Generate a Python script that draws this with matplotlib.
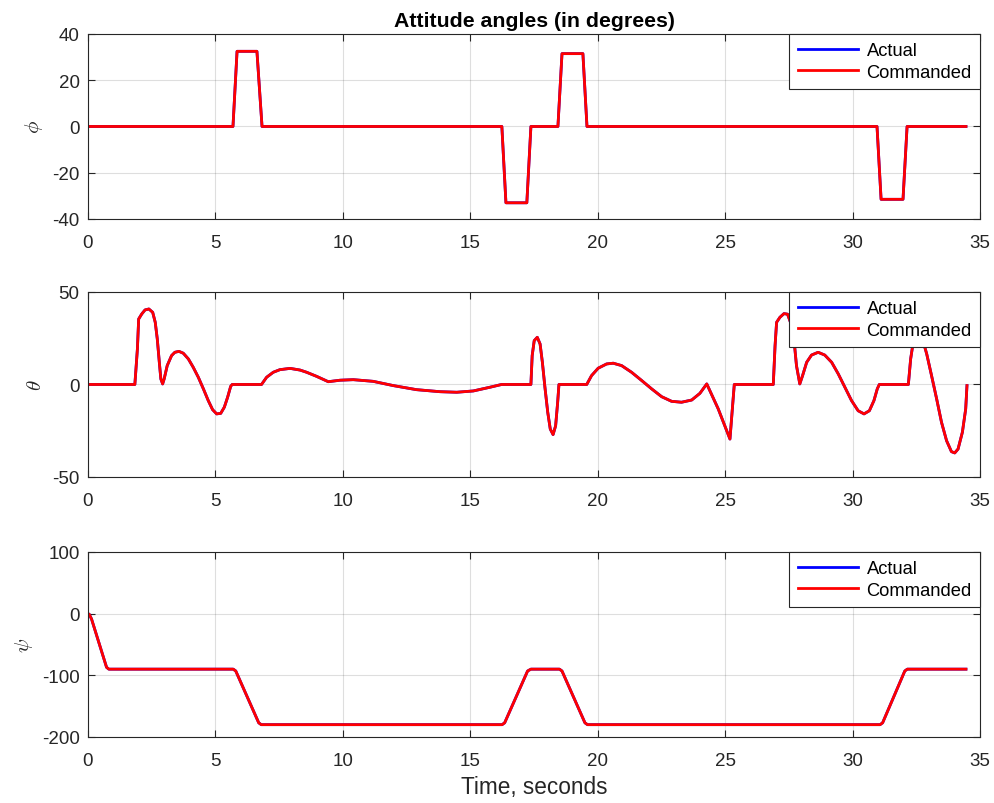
import numpy as np
from matplotlib import pyplot as plt

# roll angle phi [deg]
phi_t = [0, 5.69, 5.85, 6.63, 6.83, 16.24, 16.40, 17.22, 17.38, 18.44, 18.60, 19.42, 19.58,
         30.96, 31.12, 31.98, 32.14, 34.45]
phi_v = [0, 0, 32.5, 32.5, 0, 0, -33, -33, 0, 0, 31.5, 31.5, 0,
         0, -31.5, -31.5, 0, 0]

# pitch angle theta [deg]
theta_t = [0, 1.84, 1.94, 1.99, 2.11, 2.24, 2.39, 2.54, 2.64, 2.72, 2.80, 2.86, 2.93, 2.99,
           3.11, 3.28, 3.41, 3.57, 3.74, 3.94, 4.13, 4.33, 4.53, 4.72, 4.89, 5.05, 5.21,
           5.35, 5.48, 5.60, 5.66,
           6.81, 7.01, 7.27, 7.53, 7.93, 8.32, 8.58, 8.97, 9.43, 9.89, 10.41, 11.19, 11.98,
           12.89, 13.81, 14.47, 15.12, 15.77, 16.23,
           17.38, 17.43, 17.51, 17.63, 17.74, 17.83, 17.93, 18.04, 18.14, 18.25, 18.35,
           18.43, 18.48,
           19.57, 19.76, 20.02, 20.35, 20.61, 20.94, 21.33, 21.73, 22.12, 22.51, 22.90,
           23.29, 23.69, 24.01, 24.28, 24.73, 25.19, 25.36,
           26.89, 26.96, 27.02, 27.15, 27.31, 27.45, 27.58, 27.70, 27.80, 27.93, 28.04,
           28.20, 28.39, 28.65, 28.91, 29.18, 29.44, 29.70, 29.96, 30.22, 30.45, 30.66,
           30.84, 30.97, 31.05,
           32.19, 32.28, 32.38, 32.50, 32.62, 32.78, 32.91, 33.10, 33.30, 33.49, 33.69,
           33.88, 34.01, 34.14, 34.31, 34.44, 34.49]
theta_v = [0, 0, 19.2, 35.4, 38.1, 40.3, 40.8, 39.0, 33.6, 24.6, 12.0, 3.0, 0.3, 3.0,
           10.2, 15.6, 17.4, 17.9, 16.9, 13.8, 9.3, 3.9, -2.4, -8.7, -13.6, -15.9, -15.6,
           -12.3, -6.9, -1.0, 0,
           0, 3.9, 6.6, 8.0, 8.7, 7.8, 6.6, 4.4, 1.5, 2.3, 2.6, 1.7, -0.6,
           -2.8, -3.9, -4.2, -3.5, -1.5, 0,
           0, 15.6, 23.7, 25.5, 21.9, 12.0, -1.5, -15.0, -24.1, -27.1, -22.3,
           -9.6, 0,
           0, 4.8, 8.8, 11.1, 11.5, 10.2, 6.6, 2.1, -2.4, -6.6, -9.1,
           -9.6, -8.4, -4.8, 0.3, -13.2, -29.5, 0,
           0, 21.0, 33.6, 36.3, 38.3, 38.0, 33.0, 24.6, 10.2, 0.3, 4.8,
           12.0, 15.9, 17.4, 15.9, 12.0, 5.7, -1.5, -8.7, -14.2, -15.9, -14.2,
           -8.7, -2.4, 0,
           0, 13.8, 22.8, 27.0, 27.5, 22.8, 16.5, 4.8, -7.8, -20.4, -30.4,
           -36.3, -37.0, -34.9, -25.8, -13.2, -0.6]

# yaw angle psi [deg]
psi_t = [0, 0.05, 0.14, 0.73, 0.82, 5.70, 5.80, 6.70, 6.80, 16.25, 16.35, 17.25, 17.38,
         18.50, 18.60, 19.50, 19.60, 31.08, 31.18, 32.05, 32.15, 34.45]
psi_v = [0, -1, -8.6, -87, -90, -90, -93, -177, -180, -180, -177, -93, -90,
         -90, -93, -177, -180, -180, -177, -93, -90, -90]

plt.rcParams['font.family'] = ['Liberation Sans', 'DejaVu Sans']
plt.rcParams['mathtext.fontset'] = 'cm'
plt.rcParams['axes.unicode_minus'] = False

dark = '#262626'

fig = plt.figure(figsize=(9.95, 8.04), dpi=100)

panels = [
    (phi_t, phi_v, r'$\phi$', (-40, 40), [-40, -20, 0, 20, 40], 0.7264),
    (theta_t, theta_v, r'$\theta$', (-50, 50), [-50, 0, 50], 0.4055),
    (psi_t, psi_v, r'$\psi$', (-200, 100), [-200, -100, 0, 100], 0.0821),
]

axes = []
for t, v, label, ylim, yticks, bottom in panels:
    ax = fig.add_axes([0.0884, bottom, 0.8965, 0.2301])
    ax.plot(t, v, color='blue', linewidth=2, label='Actual')
    ax.plot(t, v, color='red', linewidth=2, label='Commanded')
    ax.set_xlim(0, 35)
    ax.set_ylim(*ylim)
    ax.set_xticks(np.arange(0, 36, 5))
    ax.set_yticks(yticks)
    ax.grid(True, color=dark, alpha=0.15, linewidth=0.8)
    ax.tick_params(direction='in', top=True, right=True, length=5, width=0.8,
                   colors=dark, labelsize=13.5, pad=6)
    ax.tick_params(axis='x', pad=11)
    for s in ax.spines.values():
        s.set_color(dark)
        s.set_linewidth(0.8)
    ax.set_ylabel(label, fontsize=15, color=dark, labelpad=5)
    leg = ax.legend(loc='upper right', fontsize=13.2, fancybox=False, framealpha=1,
                    edgecolor=dark, borderaxespad=0, handlelength=3.3,
                    handletextpad=0.45, borderpad=0.45, labelspacing=0.25)
    leg.get_frame().set_linewidth(0.8)
    axes.append(ax)

axes[0].set_title('Attitude angles (in degrees)', fontsize=15.3, fontweight='bold', pad=6)
axes[2].set_xlabel('Time, seconds', fontsize=16.3, color=dark, labelpad=4)

fig.savefig('out.png', dpi=100)
